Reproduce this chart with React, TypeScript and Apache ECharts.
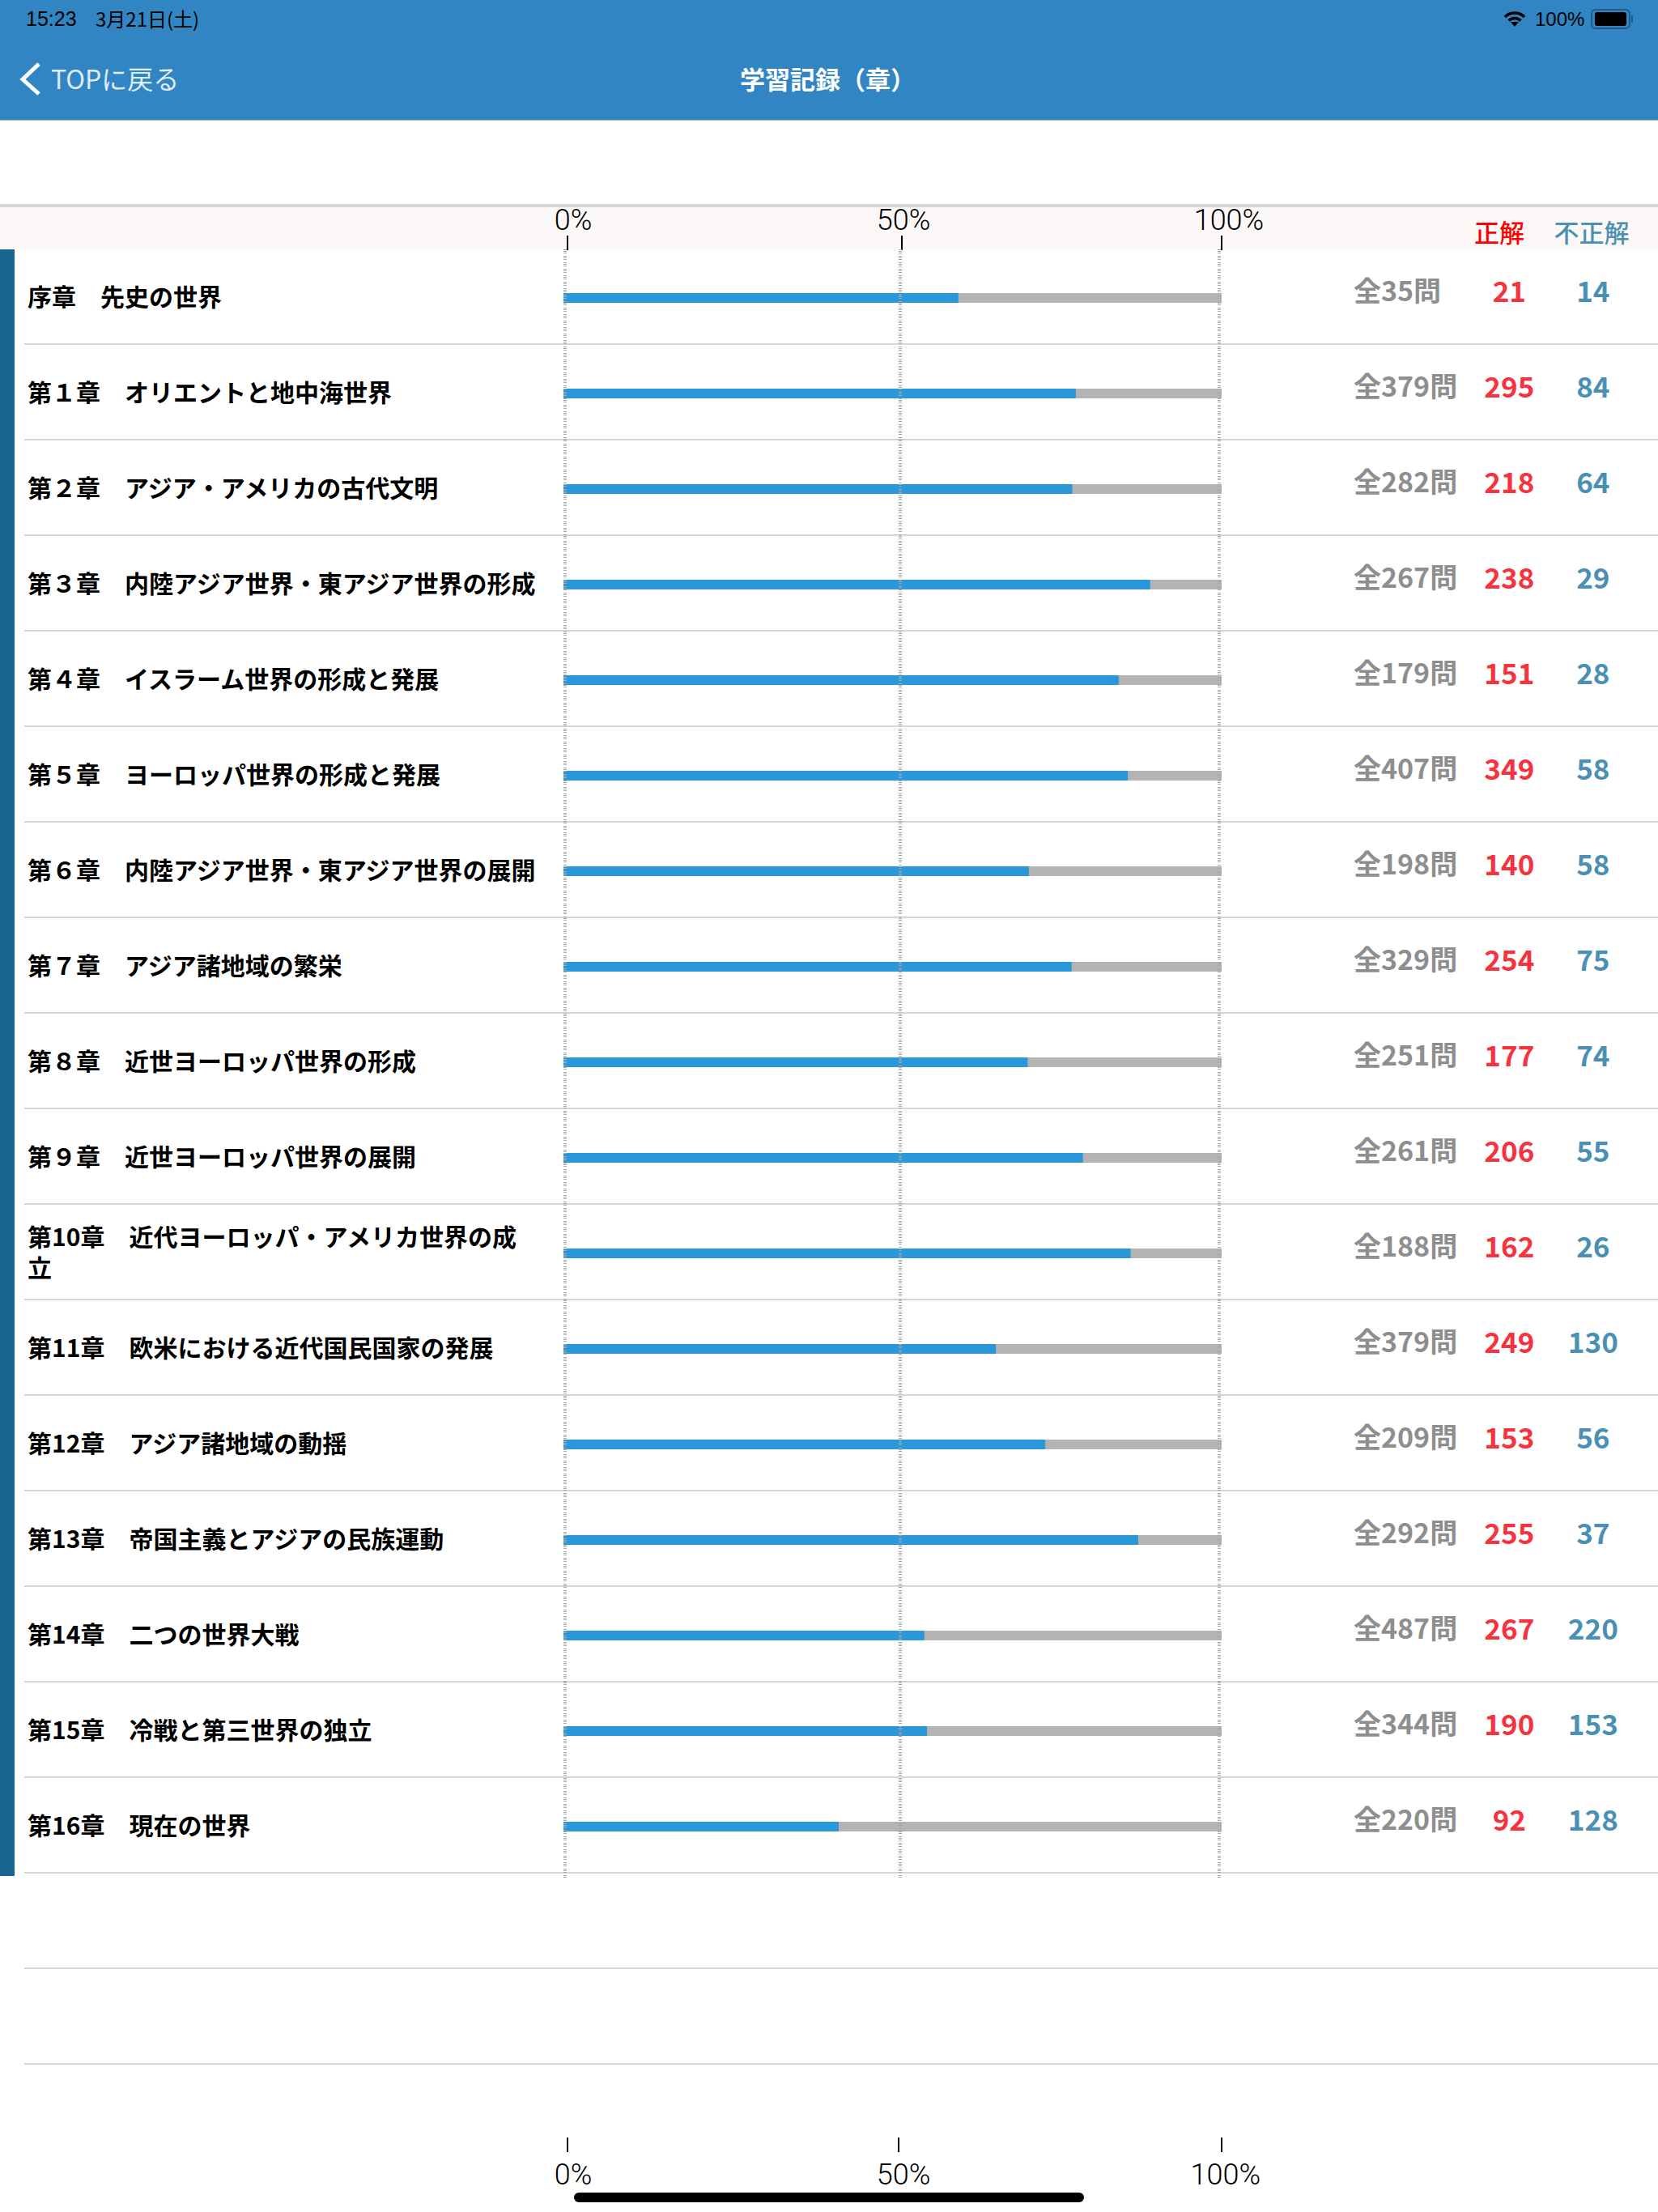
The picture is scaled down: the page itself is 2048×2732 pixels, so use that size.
import React, { useEffect, useRef } from 'react';
import * as echarts from 'echarts';

const chapters = [
  '序章　先史の世界',
  '第１章　オリエントと地中海世界',
  '第２章　アジア・アメリカの古代文明',
  '第３章　内陸アジア世界・東アジア世界の形成',
  '第４章　イスラーム世界の形成と発展',
  '第５章　ヨーロッパ世界の形成と発展',
  '第６章　内陸アジア世界・東アジア世界の展開',
  '第７章　アジア諸地域の繁栄',
  '第８章　近世ヨーロッパ世界の形成',
  '第９章　近世ヨーロッパ世界の展開',
  '第10章　近代ヨーロッパ・アメリカ世界の成\n立',
  '第11章　欧米における近代国民国家の発展',
  '第12章　アジア諸地域の動揺',
  '第13章　帝国主義とアジアの民族運動',
  '第14章　二つの世界大戦',
  '第15章　冷戦と第三世界の独立',
  '第16章　現在の世界',
];
const totals = [35, 379, 282, 267, 179, 407, 198, 329, 251, 261, 188, 379, 209, 292, 487, 344, 220];
const correct = [21, 295, 218, 238, 151, 349, 140, 254, 177, 206, 162, 249, 153, 255, 267, 190, 92];
const wrong = [14, 84, 64, 29, 28, 58, 58, 75, 74, 55, 26, 130, 56, 37, 220, 153, 128];

// the guides in the screenshot are not quite on 0/50/100, so these are read off it
const guideValues = [0.25, 51.17, 99.63];
const topTicks = [0.62, 51.41, 100];
const topLabels = [1.48, 51.66, 101.1];
const bottomTicks = [0.62, 50.92, 100];
const bottomLabels = [1.48, 51.66, 100.6];

const JP = '"Noto Sans CJK JP", sans-serif';
const LATIN = '"Liberation Sans", sans-serif';
const AXIS_FONT = 'Roboto, "Liberation Sans", sans-serif';

const percentLabel = (v: number) => Math.round(v / 50) * 50 + '%';

const plot = { left: 614.7, width: 975.6, top: 309, height: 2006 };

function hiddenX(gridIndex: number) {
  return { type: 'value' as const, gridIndex, min: -10, max: 110, show: false };
}

function statAxis(labelData: string[], color: string, margin: number, align: string, fontSize: number) {
  return {
    type: 'category' as const,
    gridIndex: 2,
    inverse: true,
    position: 'right' as const,
    data: labelData,
    axisLine: { show: false },
    axisTick: { show: false },
    splitLine: { show: false },
    axisLabel: { interval: 0, margin, align, color, fontSize, fontWeight: 'bold', fontFamily: JP },
  };
}

function buildGraphic() {
  const elements: any[] = [
    { type: 'rect', z: -10, shape: { x: 0, y: 0, width: 2048, height: 148 }, style: { fill: '#3185c3' } },
    { type: 'rect', z: -10, shape: { x: 0, y: 148, width: 2048, height: 1 }, style: { fill: '#b4bcc4' } },
    { type: 'rect', z: -10, shape: { x: 0, y: 252, width: 2048, height: 4 }, style: { fill: '#ddd5d5' } },
    { type: 'rect', z: -10, shape: { x: 0, y: 256, width: 2048, height: 52 }, style: { fill: '#fbf8f7' } },
    { type: 'rect', z: -10, shape: { x: 0, y: 308, width: 18, height: 2009 }, style: { fill: '#1a6690' } },
    { type: 'rect', shape: { x: 709, y: 2708, width: 630, height: 12, r: 6 }, style: { fill: '#000' } },
    // status bar
    { type: 'text', x: 32, y: 23, style: { text: '15:23', fill: '#000', font: `25px ${LATIN}`, verticalAlign: 'middle' } },
    { type: 'text', x: 118, y: 22, style: { text: '3月21日(土)', fill: '#000', font: `24px ${JP}`, verticalAlign: 'middle' } },
    { type: 'text', x: 1896, y: 23, style: { text: '100%', fill: '#000', font: `24px ${LATIN}`, verticalAlign: 'middle' } },
    { type: 'rect', shape: { x: 1966, y: 12, width: 47, height: 23, r: 5 }, style: { fill: 'none', stroke: '#1d5c88', lineWidth: 2 } },
    { type: 'rect', shape: { x: 1970, y: 15, width: 39, height: 17, r: 3 }, style: { fill: '#000' } },
    { type: 'rect', shape: { x: 2015, y: 19, width: 2, height: 9 }, style: { fill: '#1d5c88' } },
    { type: 'arc', shape: { cx: 1871, cy: 33, r: 17, startAngle: -Math.PI * 0.75, endAngle: -Math.PI * 0.25 }, style: { stroke: '#000', lineWidth: 3.5, fill: 'none' } },
    { type: 'arc', shape: { cx: 1871, cy: 33, r: 10.5, startAngle: -Math.PI * 0.75, endAngle: -Math.PI * 0.25 }, style: { stroke: '#000', lineWidth: 3.5, fill: 'none' } },
    { type: 'polygon', shape: { points: [[1866, 27], [1876, 27], [1871, 33]] }, style: { fill: '#000' } },
    // navigation bar
    { type: 'polyline', shape: { points: [[48, 79], [28, 98], [48, 116]] }, style: { stroke: '#fff', lineWidth: 5, fill: 'none' } },
    { type: 'text', x: 63, y: 96, style: { text: 'TOPに戻る', fill: '#dfecf6', font: `32px ${JP}`, verticalAlign: 'middle' } },
    { type: 'text', x: 914, y: 96, style: { text: '学習記録（章）', fill: '#fff', font: `bold 31px ${JP}`, verticalAlign: 'middle' } },
    // column heads
    { type: 'text', x: 1852, y: 285, style: { text: '正解', fill: '#ff0000', font: `500 31px ${JP}`, align: 'center', verticalAlign: 'middle' } },
    { type: 'text', x: 1966, y: 285, style: { text: '不正解', fill: '#4a90b0', font: `500 31px ${JP}`, align: 'center', verticalAlign: 'middle' } },
  ];
  // row rules carry on below the last chapter
  for (let i = 0; i < chapters.length + 2; i++) {
    const y = 425 + i * 118;
    elements.push({ type: 'line', z: -5, shape: { x1: 30, y1: y, x2: 2048, y2: y }, style: { stroke: '#c8c8c8', lineWidth: 1.5 } });
  }
  return elements;
}

export default function App() {
  const chartRef = useRef<HTMLDivElement | null>(null);

  useEffect(() => {
    if (!chartRef.current) return;
    const chart = echarts.init(chartRef.current, undefined, { renderer: 'svg' });
    chart.setOption({
      animation: false,
      backgroundColor: '#fff',
      graphic: buildGraphic(),
      // the text columns sit a little above the bars, so they get their own grids
      grid: [plot, { ...plot, top: plot.top - 3 }, { ...plot, top: plot.top - 10.5 }],
      xAxis: [
        {
          type: 'value',
          min: -10,
          max: 110,
          position: 'top',
          axisLine: { show: false },
          splitLine: { show: false },
          axisTick: { show: true, length: 18, customValues: topTicks, lineStyle: { color: '#000', width: 2 } },
          axisLabel: { show: true, customValues: topLabels, formatter: percentLabel, margin: 19, color: '#000', fontSize: 36, fontWeight: 300, fontFamily: AXIS_FONT },
        },
        {
          type: 'value',
          min: -10,
          max: 110,
          position: 'bottom',
          offset: 325,
          axisLine: { show: false },
          splitLine: { show: false },
          axisTick: { show: true, length: 18, customValues: bottomTicks, lineStyle: { color: '#000', width: 2 } },
          axisLabel: { show: true, customValues: bottomLabels, formatter: percentLabel, margin: 28, color: '#000', fontSize: 36, fontWeight: 300, fontFamily: AXIS_FONT },
        },
        hiddenX(1),
        hiddenX(2),
      ],
      yAxis: [
        { type: 'category', inverse: true, data: chapters, show: false },
        {
          type: 'category',
          gridIndex: 1,
          inverse: true,
          position: 'left',
          data: chapters,
          axisLine: { show: false },
          axisTick: { show: false },
          splitLine: { show: false },
          axisLabel: { interval: 0, margin: 580.7, align: 'left', color: '#000', fontSize: 30, fontWeight: 'bold', fontFamily: JP, lineHeight: 38 },
        },
        statAxis(totals.map((t) => `全${t}問`), '#8e8e8e', 81.7, 'left', 34),
        statAxis(correct.map(String), '#f5333f', 274, 'center', 35),
        statAxis(wrong.map(String), '#4a90b4', 377.5, 'center', 35),
      ],
      series: [
        {
          name: '不正解',
          type: 'bar',
          barWidth: 12,
          barGap: '-100%',
          silent: true,
          itemStyle: { color: '#b3b3b3' },
          data: totals.map(() => 100),
        },
        {
          name: '正解',
          type: 'bar',
          barWidth: 12,
          barGap: '-100%',
          silent: true,
          itemStyle: { color: '#2a98d8' },
          data: correct.map((c, i) => (c / totals[i]) * 100),
          markLine: {
            silent: true,
            symbol: 'none',
            label: { show: false },
            lineStyle: { type: [1, 1, 1, 1, 1, 3], color: '#a8a8a8', width: 4 },
            data: guideValues.map((v) => [
              { xAxis: v, y: 308 },
              { xAxis: v, y: 2319 },
            ]),
          },
        },
      ],
    });
    return () => {
      chart.dispose();
    };
  }, []);

  return <div ref={chartRef} style={{ position: 'absolute', left: 0, top: 0, width: 2048, height: 2732 }} />;
}
